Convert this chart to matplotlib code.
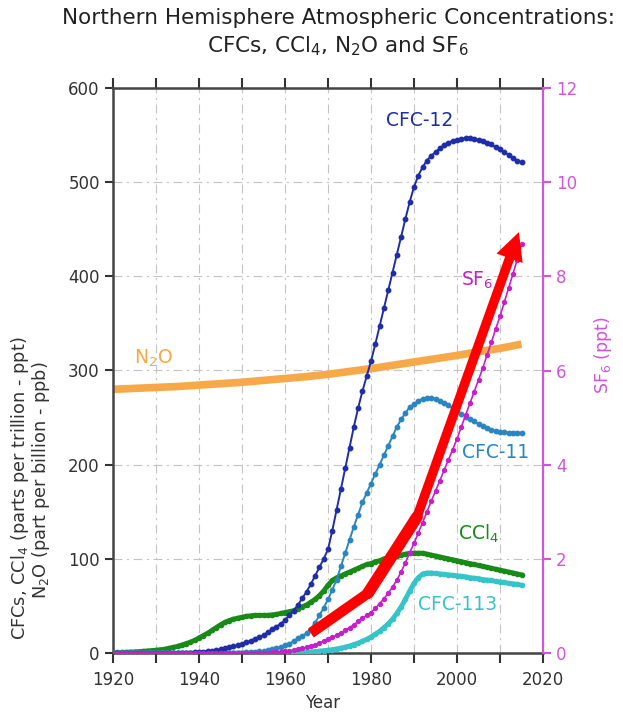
import numpy as np
import matplotlib
matplotlib.use('Agg')
import matplotlib.pyplot as plt
from matplotlib.ticker import MultipleLocator

years = list(range(1920, 2016))

cfc12 = [0, 0, 0, 0, 0, 0, 0, 0, 0, 0,
         0, 0, 0, 0, 0, 0, 0.1, 0.2, 0.4, 0.7,
         1, 1.5, 2, 2.5, 3, 4, 5, 6, 7, 8.5,
         10, 11.5, 13, 15, 17, 19, 22, 25, 28, 31,
         35, 40, 45, 51, 58, 65, 73, 82, 91, 100,
         110, 130, 152, 174, 196, 218, 240, 260, 278, 294,
         310, 328, 347, 366, 385, 404, 423, 442, 461, 479,
         495, 507, 516, 523, 528, 532, 536, 539, 542, 544,
         545, 546, 547, 547, 546, 545, 544, 542, 540, 537,
         535, 532, 529, 526, 523, 521]

cfc11 = [0] * 30 + [
         0.5, 0.7, 1, 1.3, 1.7, 2.2, 3, 4, 5, 6.5,
         8, 10, 12.5, 15.5, 18, 21, 26, 32, 40, 48,
         57, 67, 78, 92, 106, 120, 134, 147, 160, 170,
         180, 190, 200, 210, 220, 230, 240, 248, 255, 261,
         264, 268, 270, 271, 271, 270, 268, 266, 263, 260,
         257, 254, 251, 248, 246, 243, 241, 239, 237, 236,
         235, 235, 234, 234, 234, 234]

ccl4 = [0.5, 0.6, 0.7, 0.8, 1, 1.2, 1.5, 1.8, 2.2, 2.6,
        3, 3.5, 4, 5, 6, 7, 8.5, 10, 11.5, 13.5,
        16, 18.5, 21, 24, 27, 30, 32.5, 34.5, 36, 37,
        38, 39, 39.5, 40, 40, 40, 40, 40.5, 41, 42,
        43, 44, 45, 47, 49, 51, 54, 57, 61, 66,
        72, 77, 80, 82, 84, 86, 88, 90, 92, 94,
        95, 97, 98, 100, 101, 102, 103, 104, 105, 106,
        106, 106, 106, 105, 104, 103, 102, 101, 100, 99,
        98, 97, 96, 95, 94, 93, 92, 91, 90, 89,
        88, 87, 86, 85, 84, 83]

cfc113 = [0] * 40 + [
          0.2, 0.3, 0.4, 0.5, 0.7, 0.9, 1.2, 1.5, 2, 2.5,
          3, 3.6, 4.3, 5.2, 6.2, 7.5, 9, 10.5, 12.5, 14.5,
          17, 20, 23, 27, 31, 36, 42, 49, 57, 66,
          74, 80, 84, 85, 85, 84.5, 84, 83.5, 83, 82.5,
          82, 81.5, 81, 80, 79.5, 79, 78, 77.5, 77, 76,
          75.5, 75, 74, 73.5, 73, 72]

sf6 = [0] * 30 + [
       0, 0, 0, 0, 0, 0.01, 0.01, 0.02, 0.02, 0.03,
       0.04, 0.05, 0.06, 0.08, 0.1, 0.12, 0.15, 0.18, 0.21, 0.25,
       0.29, 0.33, 0.38, 0.43, 0.48, 0.54, 0.6, 0.67, 0.74, 0.8,
       0.86, 0.95, 1.05, 1.15, 1.27, 1.4, 1.55, 1.72, 1.92, 2.13,
       2.33, 2.55, 2.77, 3.0, 3.22, 3.44, 3.66, 3.88, 4.1, 4.32,
       4.55, 4.8, 5.05, 5.3, 5.55, 5.8, 6.05, 6.33, 6.6, 6.88,
       7.15, 7.45, 7.75, 8.05, 8.35, 8.68]

n2o_years = list(range(1920, 2016, 5))
n2o = [280, 281, 282, 283, 284.5, 286, 287.5, 289.5, 291.5, 293.5,
       296, 299, 302, 305.5, 309, 312.5, 316, 320, 323.5, 328]

# red annotation arrow (x = year, y = SF6 ppt)
arrow_x = [1966.0, 1979.3, 1990.7, 2014.4]
arrow_y = [0.42, 1.27, 2.89, 8.94]

c12 = '#1f2ea8'
c11 = '#2a86c0'
cccl4 = '#178a17'
c113 = '#35c4c8'
cn2o = '#f7a848'
csf6 = '#c81ecb'
cax = '#d055d8'
grey = '#333333'

fig = plt.figure(figsize=(6.23, 7.14), dpi=100)
ax = fig.add_axes([113/623, 1-653/714, 430/623, 565/714])
ax2 = ax.twinx()

ax.plot(n2o_years, n2o, color=cn2o, lw=5.5, zorder=2, solid_capstyle='butt')
ax.plot(years, ccl4, color=cccl4, lw=3.5, marker='o', ms=3, zorder=3)
ax.plot(years, cfc113, color=c113, lw=3.5, marker='o', ms=3, zorder=3)
ax.plot(years, cfc11, color=c11, lw=1.4, marker='o', ms=3.2, zorder=4)
ax.plot(years, cfc12, color=c12, lw=1.4, marker='o', ms=3.2, zorder=4)
ax2.plot(years, sf6, color=csf6, lw=1.2, marker='o', ms=2.8)

ax.set_xlim(1920, 2020)
ax.set_ylim(0, 600)
ax2.set_ylim(0, 12)

ax.xaxis.set_major_locator(MultipleLocator(20))
ax.xaxis.set_minor_locator(MultipleLocator(10))
ax.yaxis.set_major_locator(MultipleLocator(100))
ax2.yaxis.set_major_locator(MultipleLocator(2))

ax.grid(True, which='both', axis='x', color='#c4c4c4', lw=0.8, ls=(0, (8, 4, 2, 4)))
ax.grid(True, which='major', axis='y', color='#c4c4c4', lw=0.8, ls=(0, (8, 4, 2, 4)))

ax.tick_params(axis='both', which='both', direction='out', colors=grey, labelsize=12,
               width=1.5, length=6, top=True)
ax.tick_params(axis='x', which='both', length=7, pad=6)
ax2.tick_params(axis='y', colors=cax, labelsize=12, width=1.5, length=6)
for s in ['left', 'bottom', 'top']:
    ax.spines[s].set_linewidth(1.8)
    ax.spines[s].set_color('#444444')
ax2.spines['right'].set_color(cax)
ax2.spines['right'].set_linewidth(1.5)
for s in ['left', 'bottom', 'top']:
    ax2.spines[s].set_visible(False)

# red arrow
ax2.plot(arrow_x[:2], arrow_y[:2], color='red', lw=7.5, solid_capstyle='butt', zorder=10)
ax2.plot(arrow_x[1:3], arrow_y[1:3], color='red', lw=8.5, solid_capstyle='round', zorder=10)
ax2.annotate('', xy=(arrow_x[3], arrow_y[3]), xytext=(arrow_x[2], arrow_y[2]),
             arrowprops=dict(arrowstyle='simple,head_length=0.5,head_width=0.5,tail_width=0.17',
                             mutation_scale=40, color='red', lw=0, shrinkA=0, shrinkB=0),
             zorder=10)

# series labels
ax.text(1991.4, 566, 'CFC-12', color=c12, fontsize=13.5, ha='center', va='center')
ax.text(1925, 313, 'N$_2$O', color=cn2o, fontsize=13.5, ha='left', va='center')
ax.text(2001, 396, 'SF$_6$', color=csf6, fontsize=13.5, ha='left', va='center')
ax.text(2001.2, 213, 'CFC-11', color=c11, fontsize=13.5, ha='left', va='center')
ax.text(2000.2, 127, 'CCl$_4$', color=cccl4, fontsize=13.5, ha='left', va='center')
ax.text(1990.9, 52, 'CFC-113', color=c113, fontsize=13.5, ha='left', va='center')

fig.text(338/623, 1-18/714, 'Northern Hemisphere Atmospheric Concentrations:',
         ha='center', va='center', fontsize=15.5, color='#222222')
fig.text(338/623, 1-46/714, 'CFCs, CCl$_4$, N$_2$O and SF$_6$',
         ha='center', va='center', fontsize=15.5, color='#222222')

fig.text(20/623, 1-488/714, 'CFCs, CCl$_4$ (parts per trillion - ppt)', rotation=90,
         ha='center', va='center', fontsize=12.8, color=grey)
fig.text(41/623, 1-480/714, 'N$_2$O (part per billion - ppb)', rotation=90,
         ha='center', va='center', fontsize=12.8, color=grey)
fig.text(603/623, 1-355/714, 'SF$_6$ (ppt)', rotation=90,
         ha='center', va='center', fontsize=12.5, color=cax)
fig.text(323/623, 1-703/714, 'Year', ha='center', va='center', fontsize=12, color=grey)

fig.savefig('out.png', dpi=100)
